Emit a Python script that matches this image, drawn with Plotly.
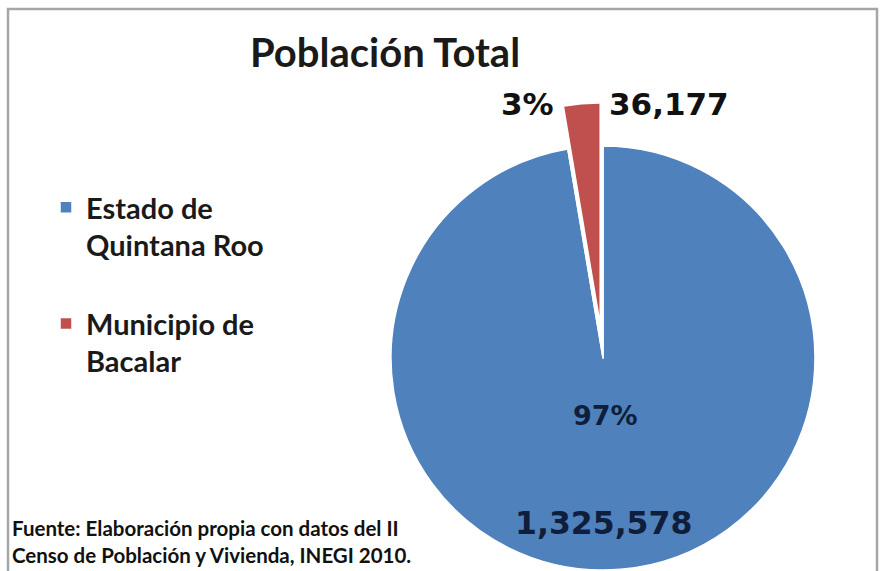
import math
import plotly.graph_objects as go

# Población total 2010: estado vs. municipio
labels = ["Estado de<br>Quintana Roo<br> ", "Municipio de<br>Bacalar<br> "]
values = [1325578, 36177]
colors = ["#4F81BD", "#C0504D"]
title_text = "Población Total"
source_text = ("Fuente: Elaboración propia con datos del II<br>"
               "Censo de Población y Vivienda, INEGI 2010.")

W, H = 880, 571
CX, CY, R = 603, 358, 212          # pie centre / radius in pixels
PULL = 0.2                         # explosion of the municipal slice

total = sum(values)
pct = [round(100 * v / total) for v in values]


def domain(cx, cy, r):
    return dict(x=[(cx - r) / W, (cx + r) / W],
                y=[(H - cy - r) / H, (H - cy + r) / H])


# direction of the exploded slice (clockwise from 12 o'clock)
start = sum(values[:1]) / total * 2 * math.pi
mid = (start + 2 * math.pi) / 2
dx = PULL * R * math.sin(mid)
dy = -PULL * R * math.cos(mid)

common = dict(values=values, sort=False, direction="clockwise", rotation=0,
              textinfo="none", hoverinfo="label+value+percent")

fig = go.Figure()
# full pie (carries the legend)
fig.add_trace(go.Pie(labels=labels, domain=domain(CX, CY, R),
                     marker=dict(colors=colors, line=dict(color="white", width=1.5)),
                     showlegend=True, **common))
# clear the slice's original place so the explosion leaves a gap
fig.add_trace(go.Pie(labels=labels, domain=domain(CX, CY, R),
                     marker=dict(colors=["rgba(0,0,0,0)", "white"],
                                 line=dict(color="rgba(0,0,0,0)", width=0)),
                     showlegend=False, **common))
# exploded municipal slice
fig.add_trace(go.Pie(labels=labels, domain=domain(CX + dx, CY + dy, R),
                     marker=dict(colors=["rgba(0,0,0,0)", colors[1]],
                                 line=dict(color="rgba(0,0,0,0)", width=0)),
                     showlegend=False, **common))

num_font = dict(family="DejaVu Sans", size=31, color="#111111", weight="bold")
in_font = dict(family="DejaVu Sans", size=27, color="#0f1e3a", weight="bold")
ann = [
    dict(text=f"{pct[1]}%", x=527 / W, y=1 - 104 / H, font=num_font),
    dict(text=f"{values[1]:,}", x=669 / W, y=1 - 104 / H, font=num_font),
    dict(text=f"{pct[0]}%", x=605 / W, y=1 - 415 / H, font=in_font),
    dict(text=f"{values[0]:,}", x=603 / W, y=1 - 523 / H,
         font=dict(family="DejaVu Sans", size=31.5, color="#0f1e3a", weight="bold")),
    dict(text=title_text, x=385 / W, y=1 - 52 / H,
         font=dict(family="Lato", size=40, color="#1a1a1a", weight="bold")),
    dict(text=source_text, x=10 / W, y=1 - 541 / H, xanchor="left", align="left",
         font=dict(family="Lato", size=20.5, color="#111111", weight="bold")),
]
for a in ann:
    a.setdefault("xanchor", "center")
    a.update(xref="paper", yref="paper", yanchor="middle", showarrow=False)

fig.update_layout(
    width=W, height=H,
    margin=dict(l=0, r=0, t=0, b=0),
    paper_bgcolor="white", plot_bgcolor="white",
    annotations=ann,
    legend=dict(x=46 / W, y=1 - 182 / H, xanchor="left", yanchor="top",
                valign="top", traceorder="normal",
                font=dict(family="Lato", size=29, color="#1a1a1a", weight="bold"),
                itemclick=False, bgcolor="rgba(0,0,0,0)"),
    shapes=[dict(type="rect", xref="paper", yref="paper",
                 x0=8 / W, x1=877 / W, y0=-0.05, y1=1 - 9 / H,
                 line=dict(color="#a6a6a6", width=2.5), layer="below")],
)

fig.write_html("out.html")
